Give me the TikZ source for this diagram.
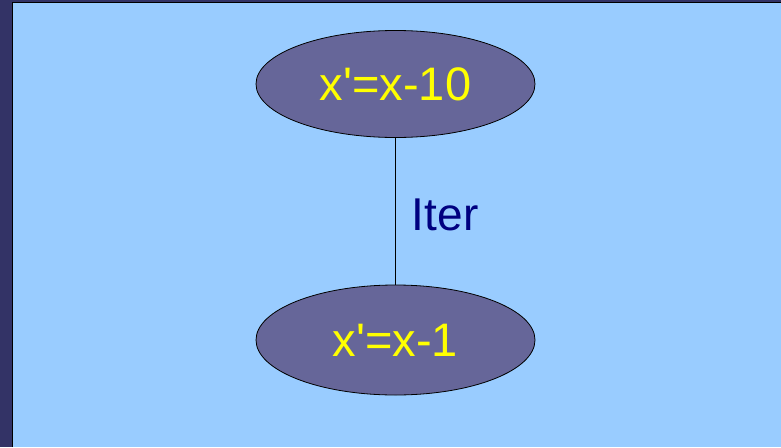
\documentclass[tikz,border=0pt]{standalone}
\usepackage{fontspec}
\setmainfont{Liberation Sans}
\usetikzlibrary{shapes.geometric}
\definecolor{bgblue}{HTML}{99CCFF}
\definecolor{frame}{HTML}{333366}
\definecolor{ellfill}{HTML}{666699}
\definecolor{navy}{HTML}{000080}
\definecolor{yel}{HTML}{FFFF00}
\tikzset{
  stateell/.style={ellipse, draw=black, line width=0.8pt, fill=ellfill, inner sep=0pt,
    text=yel, font=\fontsize{47}{50}\selectfont},
  edgelbl/.style={text=navy, font=\fontsize{46}{50}\selectfont, anchor=west, inner sep=0pt},
}
\begin{document}
\begin{tikzpicture}[x=1pt,y=-1pt]
\useasboundingbox (0,0) rectangle (781,447);
\fill[frame] (0,0) rectangle (781,447);
\fill[bgblue] (13,3) rectangle (781,447);
\draw[black, line width=1pt] (12.5,447) -- (12.5,2.5) -- (781,2.5);
\node[stateell, minimum width=279, minimum height=107] (a) at (395.5,84) {x\textquotesingle=x-10};
\node[stateell, minimum width=279, minimum height=110] (b) at (395.5,340) {x\textquotesingle=x-1};
\draw[black, line width=0.8pt] (a.south) -- (b.north) node[midway, edgelbl, xshift=16, yshift=-4] {Iter};
\end{tikzpicture}
\end{document}
